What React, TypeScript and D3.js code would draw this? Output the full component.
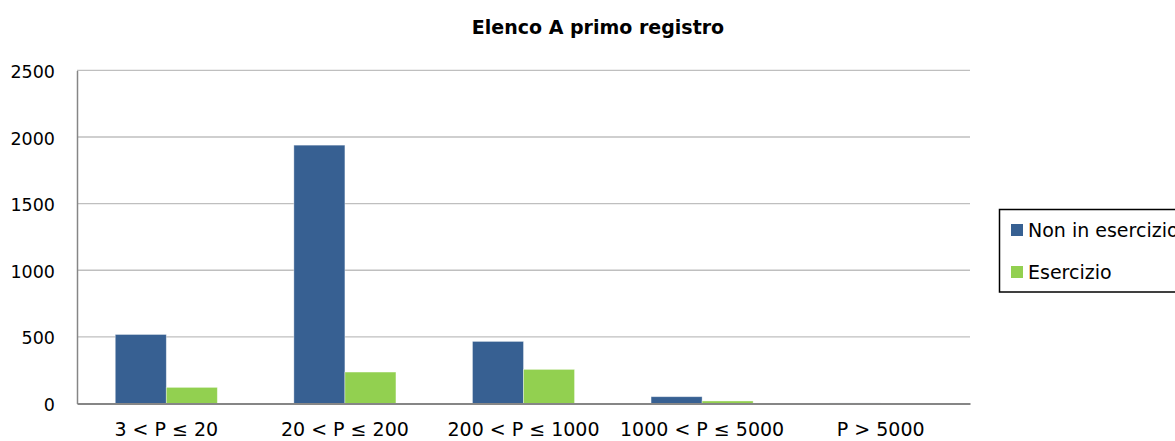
import { useRef, useEffect } from "react";
import * as d3 from "d3";

const categories = ["3 < P ≤ 20", "20 < P ≤ 200", "200 < P ≤ 1000", "1000 < P ≤ 5000", "P > 5000"];
const seriesNames = ["Non in esercizio", "Esercizio"];
const nonInEsercizio = [518, 1939, 466, 51, 4];
const esercizio = [121, 236, 256, 19, 1];
const yTicks = [0, 500, 1000, 1500, 2000, 2500];
const colors = ["#376092", "#92D050"];

const FONT = "Tahoma, 'DejaVu Sans', sans-serif";

const App = () => {
  const chartRef = useRef<HTMLDivElement>(null);

  useEffect(() => {
    document.body.style.margin = "0";
    const el = chartRef.current;
    if (!el) return;

    const width = 1175;
    const height = 441;
    const plot = { left: 77, right: 970, top: 70.4, bottom: 403.5 };

    const svg = d3
      .select(el)
      .append("svg")
      .attr("width", width)
      .attr("height", height)
      .style("display", "block")
      .style("font-family", FONT);

    svg.append("rect").attr("width", width).attr("height", height).attr("fill", "#fff");

    const x0 = d3.scaleBand<string>().domain(categories).range([plot.left, plot.right]).padding(0);
    const x1 = d3
      .scaleBand<string>()
      .domain(seriesNames)
      .range([0, x0.bandwidth()])
      .paddingInner(0)
      .paddingOuter(0.75);
    const y = d3.scaleLinear().domain([0, 2500]).range([plot.bottom, plot.top]);

    // gridlines
    svg
      .append("g")
      .selectAll("line")
      .data(yTicks.filter(t => t > 0))
      .enter()
      .append("line")
      .attr("x1", plot.left)
      .attr("x2", plot.right)
      .attr("y1", d => y(d))
      .attr("y2", d => y(d))
      .attr("stroke", "#BFBFBF")
      .attr("stroke-width", 1.3);

    // bars
    const series = [nonInEsercizio, esercizio];
    const groups = svg
      .append("g")
      .selectAll("g")
      .data(categories)
      .enter()
      .append("g")
      .attr("transform", d => `translate(${x0(d)},0)`);

    groups
      .selectAll("rect")
      .data((_d, i) => series.map((s, j) => ({ name: seriesNames[j], value: s[i], j })))
      .enter()
      .append("rect")
      .attr("x", d => x1(d.name) as number)
      .attr("y", d => y(d.value))
      .attr("width", x1.bandwidth())
      .attr("height", d => plot.bottom - y(d.value))
      .attr("fill", d => colors[d.j])
      .attr("stroke", "rgba(255,255,255,0.45)")
      .attr("stroke-width", 0.8);

    // y axis
    const yAxis = svg
      .append("g")
      .attr("transform", `translate(${plot.left},0)`)
      .call(d3.axisLeft(y).tickValues(yTicks).tickSize(0).tickPadding(22).tickFormat(d3.format("d")));
    yAxis.select(".domain").attr("stroke", "#868686").attr("stroke-width", 1.5);
    yAxis
      .selectAll("text")
      .attr("font-family", FONT)
      .attr("font-size", 17.5)
      .attr("fill", "#000")
      .attr("dy", "0.4em");

    // x axis
    const xAxis = svg
      .append("g")
      .attr("transform", `translate(0,${plot.bottom})`)
      .call(d3.axisBottom(x0).tickSize(0).tickPadding(19));
    xAxis.select(".domain").attr("stroke", "#868686").attr("stroke-width", 1.8);
    xAxis
      .selectAll("text")
      .attr("font-family", FONT)
      .attr("font-size", 19)
      .attr("fill", "#000");

    // title
    svg
      .append("text")
      .attr("x", 598)
      .attr("y", 34)
      .attr("text-anchor", "middle")
      .attr("font-weight", "bold")
      .attr("font-size", 19)
      .attr("fill", "#000")
      .text("Elenco A primo registro");

    // legend
    const legend = svg.append("g");
    legend
      .append("rect")
      .attr("x", 999.5)
      .attr("y", 209.5)
      .attr("width", 200)
      .attr("height", 82.5)
      .attr("fill", "#fff")
      .attr("stroke", "#000")
      .attr("stroke-width", 1.5);
    const items = legend
      .selectAll("g.item")
      .data(seriesNames)
      .enter()
      .append("g")
      .attr("class", "item")
      .attr("transform", (_d, i) => `translate(1011,${224 + i * 42})`);
    items
      .append("rect")
      .attr("width", 12)
      .attr("height", 12)
      .attr("fill", (_d, i) => colors[i]);
    items
      .append("text")
      .attr("x", 17)
      .attr("y", 6)
      .attr("dy", "0.36em")
      .attr("font-size", 19)
      .attr("fill", "#000")
      .text(d => d);

    return () => {
      d3.select(el).select("svg").remove();
    };
  }, []);

  return <div ref={chartRef}></div>;
};

export default App;
